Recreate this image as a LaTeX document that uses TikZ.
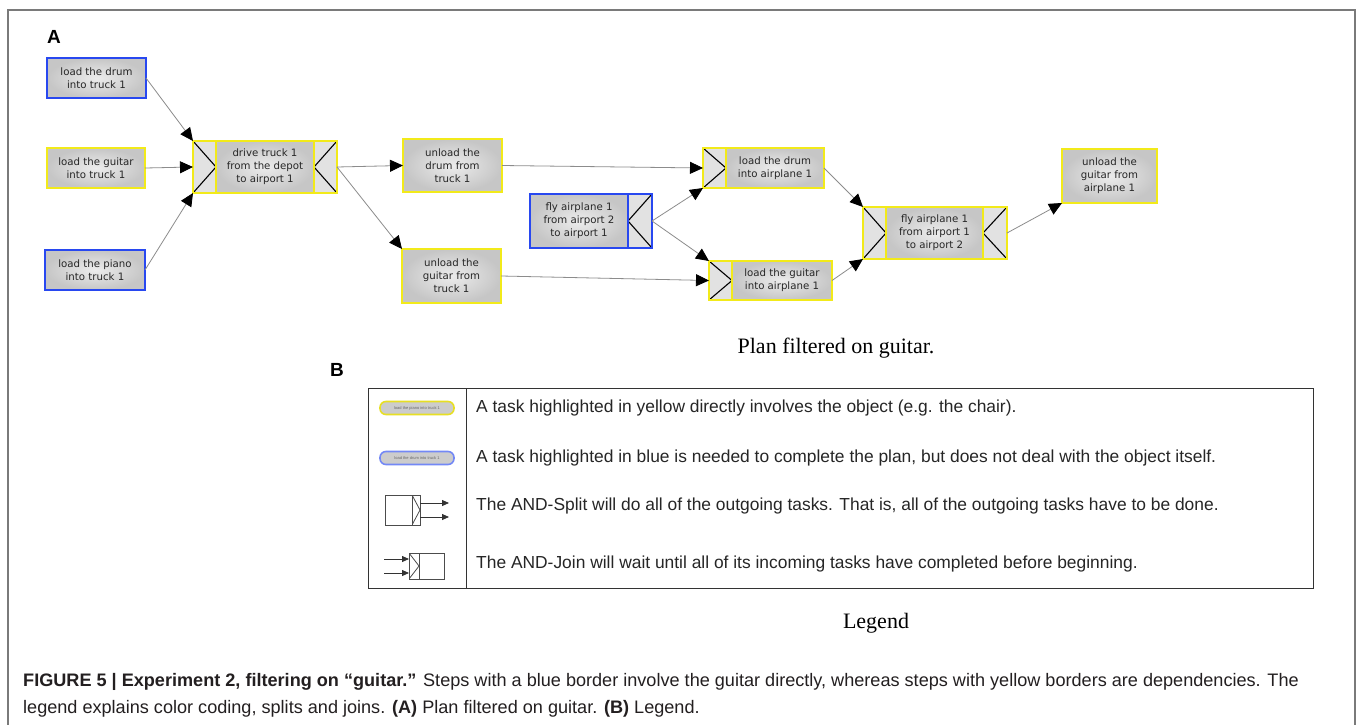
\documentclass[tikz,border=0pt]{standalone}
\usepackage{fontspec}
\setmainfont{Liberation Sans}
\newfontfamily\serifface{Liberation Serif}
\newfontfamily\taskface{DejaVu Sans}
\usetikzlibrary{arrows.meta, positioning}
\definecolor{hlyellow}{HTML}{F2EA1A}
\definecolor{hlblue}{HTML}{2848F0}
\definecolor{cellgray}{HTML}{E2E2E2}
\definecolor{edgegray}{HTML}{8C8C8C}
\definecolor{framegray}{HTML}{7A7A7A}
\definecolor{captext}{HTML}{231F20}

\tikzset{
  task/.style={rectangle, inner sep=1pt, outer sep=0pt, align=center,
    font=\taskface\fontsize{10.2}{13}\selectfont, text=black!85,
    inner color=gray!15, outer color=gray!45, line width=1.3pt},
  ytask/.style={task, draw=hlyellow},
  btask/.style={task, draw=hlblue},
  joincell/.style={rectangle, fill=cellgray, inner sep=0pt, outer sep=0pt,
    minimum width=23pt, line width=1.3pt,
    path picture={\draw[black, line width=1.1pt]
      (path picture bounding box.north west) -- (path picture bounding box.east)
      -- (path picture bounding box.south west) -- cycle;}},
  splitcell/.style={joincell,
    path picture={\draw[black, line width=1.1pt]
      (path picture bounding box.north east) -- (path picture bounding box.west)
      -- (path picture bounding box.south east) -- cycle;}},
  dep/.style={edgegray, line width=0.8pt,
    -{Triangle[length=13pt, width=12pt, color=black]}},
  legtext/.style={anchor=west, inner sep=0pt, text=black!85,
    font=\fontsize{17.4}{20}\selectfont},
  pill/.style={rectangle, rounded corners=6pt, minimum width=74pt, minimum height=13pt,
    inner sep=0pt, fill=gray!40, line width=1.6pt, text=black!60,
    font=\fontsize{4}{4}\selectfont},
  icon/.style={rectangle, draw=black!70, line width=0.8pt, outer sep=0pt, inner sep=0pt},
  iconarrow/.style={black!80, line width=0.8pt, -{Triangle[length=7pt, width=6pt]}}
}

\begin{document}
\begin{tikzpicture}[x=1pt, y=-1pt]
\useasboundingbox (0,0) rectangle (1360,725);
\fill[white] (0,0) rectangle (1360,725);

% Frame
\draw[framegray, line width=1.2pt] (8,725) -- (8,10) -- (1355,10) -- (1355,725);

% ================================================================
% A: plan filtered on guitar
% ================================================================
\node[font=\fontsize{19}{19}\bfseries\selectfont] at (54,37) {A};

% Tasks
\node[btask, minimum width=99pt, minimum height=40pt] (dtruck) at (96.5,78)
  {load the drum\\into truck 1};
\node[ytask, minimum width=98pt, minimum height=40pt] (gtruck) at (96,168)
  {load the guitar\\into truck 1};
\node[btask, minimum width=100pt, minimum height=40pt] (ptruck) at (95,270)
  {load the piano\\into truck 1};

\node[ytask, minimum width=98pt, minimum height=52pt] (drive) at (265,167)
  {drive truck 1\\from the depot\\to airport 1};
\node[joincell, draw=hlyellow, minimum height=52pt, left=0pt of drive] (drivejoin) {};
\node[splitcell, draw=hlyellow, minimum height=52pt, right=0pt of drive] (drivesplit) {};

\node[ytask, minimum width=99pt, minimum height=53pt] (udrum) at (452.5,165.5)
  {unload the\\drum from\\truck 1};
\node[ytask, minimum width=99pt, minimum height=54pt] (uguitar) at (451.5,276)
  {unload the\\guitar from\\truck 1};

\node[btask, minimum width=98pt, minimum height=54pt] (flyin) at (579,221)
  {fly airplane 1\\from airport 2\\to airport 1};
\node[splitcell, draw=hlblue, minimum width=24pt, minimum height=54pt, right=0pt of flyin] (flyinsplit) {};

\node[ytask, minimum width=98pt, minimum height=40pt] (ldrum) at (775,168)
  {load the drum\\into airplane 1};
\node[joincell, draw=hlyellow, minimum height=40pt, left=0pt of ldrum] (ldrumjoin) {};
\node[ytask, minimum width=100pt, minimum height=39pt] (lguitar) at (782,280.5)
  {load the guitar\\into airplane 1};
\node[joincell, draw=hlyellow, minimum height=39pt, left=0pt of lguitar] (lguitarjoin) {};

\node[ytask, minimum width=97pt, minimum height=52pt] (flyout) at (934.5,233)
  {fly airplane 1\\from airport 1\\to airport 2};
\node[joincell, draw=hlyellow, minimum height=52pt, left=0pt of flyout] (flyoutjoin) {};
\node[splitcell, draw=hlyellow, minimum width=24pt, minimum height=52pt, right=0pt of flyout] (flyoutsplit) {};

\node[ytask, minimum width=95pt, minimum height=54pt] (uair) at (1109.5,176)
  {unload the\\guitar from\\airplane 1};

% Dependencies
\draw[dep] (dtruck.east) -- (drivejoin.north west);
\draw[dep] (gtruck.east) -- (drivejoin.west);
\draw[dep] (ptruck.east) -- (drivejoin.south west);
\draw[dep] (drivesplit.east) -- (udrum.west);
\draw[dep] (drivesplit.east) -- (uguitar.north west);
\draw[dep] (udrum.east) -- (ldrumjoin.west);
\draw[dep] (uguitar.east) -- (lguitarjoin.west);
\draw[dep] (flyinsplit.east) -- (ldrumjoin.south west);
\draw[dep] (flyinsplit.east) -- (lguitarjoin.north west);
\draw[dep] (ldrum.east) -- (flyoutjoin.north west);
\draw[dep] (lguitar.east) -- (flyoutjoin.south west);
\draw[dep] (flyoutsplit.east) -- (uair.south west);

\node[font=\serifface\fontsize{22}{22}\selectfont] (plantitle) at (836,348)
  {Plan filtered on guitar.};

% ================================================================
% B: legend
% ================================================================
\node[font=\fontsize{19}{19}\bfseries\selectfont] at (337,370) {B};

\draw[black!80, line width=0.9pt] (368,388) rectangle (1313,588);
\draw[black!80, line width=0.9pt] (466,388) -- (466,588);

% Highlight pills
\node[pill, draw=hlyellow!90!gray] (pillyellow) at (417,408) {load the piano into truck 1};
\node[pill, draw=hlblue!65] (pillblue) at (417,458) {load the drum into truck 1};

% AND-split icon
\node[icon, minimum width=27pt, minimum height=30pt] (splitbox) at (398.5,510) {};
\node[icon, minimum width=8pt, minimum height=30pt, right=0pt of splitbox,
      path picture={\draw[black!70, line width=0.8pt]
        (path picture bounding box.north west) -- (path picture bounding box.east)
        -- (path picture bounding box.south west);}] (spliticon) {};
\coordinate (splitout1) at (449,503);
\coordinate (splitout2) at (449,517);
\draw[iconarrow] (spliticon.east |- splitout1) -- (splitout1);
\draw[iconarrow] (spliticon.east |- splitout2) -- (splitout2);

% AND-join icon
\node[icon, minimum width=25pt, minimum height=26pt] (joinbox) at (431.5,566) {};
\node[icon, minimum width=10pt, minimum height=26pt, left=0pt of joinbox,
      path picture={\draw[black!70, line width=0.8pt]
        (path picture bounding box.north west) -- (path picture bounding box.east)
        -- (path picture bounding box.south west);}] (joinicon) {};
\coordinate (joinin1) at (384,559);
\coordinate (joinin2) at (384,573);
\draw[iconarrow] (joinin1) -- (joinicon.west |- joinin1);
\draw[iconarrow] (joinin2) -- (joinicon.west |- joinin2);

% Row texts
\node[legtext] (legyellow) at (476,408)
  {A task highlighted in yellow directly involves the object (e.g. the chair).};
\node[legtext] (legblue) at (476,458)
  {A task highlighted in blue is needed to complete the plan, but does not deal with the object itself.};
\node[legtext] (legsplit) at (476,506)
  {The AND-Split will do all of the outgoing tasks. That is, all of the outgoing tasks have to be done.};
\node[legtext] (legjoin) at (476,564)
  {The AND-Join will wait until all of its incoming tasks have completed before beginning.};

\node[font=\serifface\fontsize{22}{22}\selectfont] (legtitle) at (876,623) {Legend};

% ================================================================
% Caption
% ================================================================
\node[anchor=base west, align=left, text=captext, inner sep=0pt,
      font=\fontsize{18.1}{27}\selectfont] (caption) at (23,713)
  {\textbf{FIGURE 5 | Experiment 2, filtering on “guitar.”} Steps with a blue border involve the guitar directly, whereas steps with yellow borders are dependencies. The\\
   legend explains color coding, splits and joins. \textbf{(A)} Plan filtered on guitar. \textbf{(B)} Legend.};

\end{tikzpicture}
\end{document}
